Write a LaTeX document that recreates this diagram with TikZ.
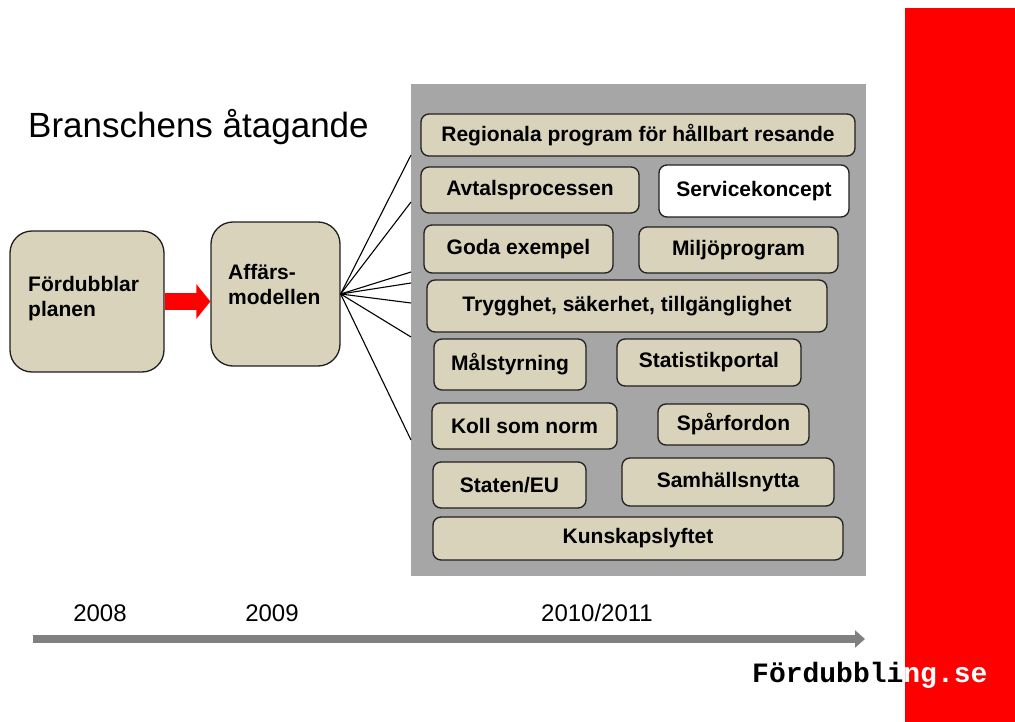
\documentclass[tikz,border=0pt]{standalone}
\usepackage{fontspec}
\setmainfont{Liberation Sans}
\newfontfamily\logofont{Liberation Mono}
\usetikzlibrary{arrows.meta}

\definecolor{tanfill}{RGB}{217,211,188}
\definecolor{panelgray}{RGB}{166,166,166}
\definecolor{timegray}{RGB}{128,128,128}
\definecolor{brandred}{RGB}{255,0,0}

\tikzset{
  itembox/.style={draw=black!88, line width=1.3pt, fill=tanfill, rounded corners=8pt,
    inner sep=0pt, align=center, font=\bfseries\fontsize{21}{25}\selectfont},
  whitebox/.style={itembox, fill=white},
  bigbox/.style={draw=black!88, line width=1.3pt, fill=tanfill, rounded corners=22pt, inner sep=0pt},
  bigtext/.style={inner sep=0pt, anchor=north west, align=left, font=\bfseries\fontsize{21}{25}\selectfont},
  fanline/.style={draw=black, line width=1.1pt},
  blockarrow/.style={draw=brandred, line width=17pt, -{Triangle[length=14pt,width=34pt]}},
  timeline/.style={draw=timegray, line width=8.5pt, -{Triangle[length=10pt,width=17pt]}},
  yearlabel/.style={inner sep=0pt, anchor=base, font=\fontsize{24}{28}\selectfont},
}

\begin{document}
\begin{tikzpicture}[x=1pt,y=-1pt]
  \useasboundingbox (0,0) rectangle (1015,722);

  % red brand bar on the right
  \fill[brandred] (905,8) rectangle (1015,722);

  % title
  \node[inner sep=0pt, anchor=base west, font=\fontsize{35}{40}\selectfont] (title) at (28,138) {Branschens åtagande};

  % grey panel holding the commitments
  \node[fill=panelgray, minimum width=455pt, minimum height=492pt, inner sep=0pt] (panel) at (638.5,330) {};

  % commitments
  \node[itembox, minimum width=434pt, minimum height=42pt] (reg)  at (638,135)   {Regionala program för hållbart resande};
  \node[itembox, minimum width=218pt, minimum height=46pt] (avt)  at (530,190)   {Avtalsprocessen};
  \node[whitebox, minimum width=190pt, minimum height=52pt] (svc) at (754,191)   {Servicekoncept};
  \node[itembox, minimum width=189pt, minimum height=48pt] (goda) at (518.5,249) {Goda exempel};
  \node[itembox, minimum width=199pt, minimum height=46pt] (milj) at (738.5,250) {Miljöprogram};
  \node[itembox, minimum width=400pt, minimum height=52pt] (tryg) at (627,306)   {Trygghet, säkerhet, tillgänglighet};
  \node[itembox, minimum width=152pt, minimum height=51pt] (mal)  at (510,364.5) {Målstyrning};
  \node[itembox, minimum width=184pt, minimum height=47pt] (stat) at (709,362.5) {Statistikportal};
  \node[itembox, minimum width=185pt, minimum height=46pt] (koll) at (524.5,426) {Koll som norm};
  \node[itembox, minimum width=151pt, minimum height=41pt] (spar) at (733.5,424.5) {Spårfordon};
  \node[itembox, minimum width=153pt, minimum height=46pt] (eu)   at (509.5,485) {Staten/EU};
  \node[itembox, minimum width=212pt, minimum height=48pt] (samh) at (728,482)   {Samhällsnytta};
  \node[itembox, minimum width=410pt, minimum height=43pt] (kun)  at (638,538.5) {Kunskapslyftet};

  % plan and business model
  \node[bigbox, minimum width=154pt, minimum height=141pt] (plan) at (87,301.5) {};
  \node[bigtext] (plantext) at (28,276.5) {Fördubblar\\planen};
  \node[bigbox, minimum width=129pt, minimum height=144pt] (aff) at (275.5,294) {};
  \node[bigtext] (afftext) at (228,264.5) {Affärs-\\modellen};

  \draw[blockarrow] (plan.east) -- (plan.east -| aff.west);

  % fan from the business model to the panel
  \coordinate (f1) at (411,155);
  \coordinate (f2) at (411,202);
  \coordinate (f3) at (411,272);
  \coordinate (f4) at (411,283);
  \coordinate (f5) at (411,303);
  \coordinate (f6) at (411,337);
  \coordinate (f7) at (411,440);
  \foreach \f in {f1,f2,f3,f4,f5,f6,f7}
    \draw[fanline] (aff.east) -- (\f);

  % time line
  \coordinate (t0) at (33,639);
  \coordinate (t1) at (865,639);
  \draw[timeline] (t0) -- (t1);
  \node[yearlabel] (y08) at (100,621) {2008};
  \node[yearlabel] (y09) at (272,621) {2009};
  \node[yearlabel] (y10) at (597,621) {2010/2011};

  % logo
  \node[inner sep=0pt, anchor=base west, font=\logofont\bfseries\fontsize{28}{32}\selectfont] (logo) at (752,682)
    {\textcolor{black}{Fördubbli}\textcolor{white}{ng.se}};
\end{tikzpicture}
\end{document}
